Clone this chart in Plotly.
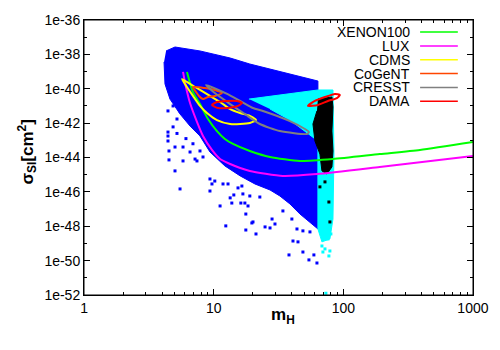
import numpy as np
import plotly.graph_objects as go

# --- data (mass in GeV, sigma as log10 of cm^2) ---

# dense scan region (blue), outline
scan_m = [4.29, 5.03, 7.84, 13.4, 19.0, 38.7, 63.7, 63.7, 55.3, 46.3, 38.7, 32.4,
          27.2, 20.8, 16.0, 12.2, 9.36, 7.84, 6.57, 5.50, 4.60, 4.21, 4.14]
scan_logsig = [-37.80, -37.57, -37.80, -38.21, -38.56, -39.14, -39.55, -48.16, -47.75,
               -47.29, -46.70, -46.24, -45.89, -45.54, -45.07, -44.49, -43.68, -42.75,
               -42.17, -41.47, -40.60, -39.72, -38.44]

# isolated scan points (blue)
pts_m = [4.52, 4.52, 5.03, 5.03, 5.80, 6.57, 7.18, 7.84, 4.86, 4.44, 5.21, 5.50, 4.44,
         4.44, 4.44, 5.80, 7.43, 8.27, 5.50, 9.36, 9.36, 10.2, 11.2, 11.8, 12.4, 12.9,
         13.4, 13.8, 14.3, 15.4, 16.2, 16.5, 17.4, 17.7, 17.7, 18.4, 19.7, 21.2, 19.0,
         22.7, 24.9, 9.70, 16.8, 20.1, 27.2, 29.7, 28.2, 34.2, 38.1, 40.9, 44.7, 48.8,
         54.3, 59.3, 62.6, 40.1, 43.9, 48.8, 55.3, 58.3, 57.3, 4.86, 5.21, 6.11, 6.92]
pts_logsig = [-43.62, -44.14, -43.39, -44.78, -44.20, -43.68, -44.09, -43.62, -42.22,
              -42.52, -41.76, -41.29, -41.29, -42.75, -43.04, -43.39, -44.20, -43.97,
              -45.83, -45.25, -45.95, -45.37, -46.82, -45.54, -47.98, -45.54, -46.35,
              -46.65, -46.18, -45.77, -46.65, -45.66, -46.65, -47.29, -48.22, -46.82,
              -47.81, -48.45, -46.24, -46.30, -48.04, -45.54, -46.12, -47.75, -48.10,
              -47.87, -47.58, -47.11, -49.67, -48.86, -48.91, -49.50, -49.96, -49.67,
              -50.14, -47.58, -48.16, -48.27, -48.33, -47.75, -47.17, -41.00, -42.60,
              -42.90, -43.20]

# relic-density allowed region (cyan)
relic_m = [18.7, 63.7, 83.2, 84.7, 83.2, 78.8, 68.4, 63.7, 63.7, 50.6, 38.7, 27.2]
relic_logsig = [-40.60, -40.07, -40.07, -43.80, -47.58, -48.74, -48.91, -48.16, -43.04,
                -42.46, -41.82, -41.18]
relic_pts_m = [68.4, 72.2, 78.8, 76.1, 69.6, 77.4, 73.4, 80.2]
relic_pts_logsig = [-49.15, -49.32, -49.44, -48.74, -49.50, -49.73, -51.90, -48.45]

# points passing all constraints (black)
best_m = [63.7, 81.7, 83.2, 81.7, 83.2, 81.7, 74.8, 68.4, 66.0, 60.4, 58.3, 62.6]
best_logsig = [-40.60, -40.48, -41.06, -42.46, -43.62, -44.55, -44.96, -44.78, -43.80,
               -43.04, -42.05, -41.29]
best_pts_m = [66.0, 77.4, 78.8, 72.2]
best_pts_logsig = [-45.71, -46.59, -47.75, -45.42]

# experimental limits and regions
xenon_m = [6.22, 6.92, 7.84, 9.04, 10.6, 12.2, 14.1, 19.0, 27.2, 46.3, 83.2, 191, 390, 1000]
xenon_logsig = [-39.02, -40.19, -40.89, -41.76, -42.46, -42.92, -43.21, -43.62, -43.97,
                -44.20, -44.09, -43.80, -43.56, -43.10]

lux_m = [5.80, 6.11, 6.57, 7.43, 8.27, 9.70, 11.2, 13.4, 16.0, 19.0, 34.2, 62.6, 191, 1000]
lux_logsig = [-39.02, -39.90, -40.83, -41.93, -42.75, -43.56, -44.09, -44.38, -44.61,
              -44.78, -45.07, -44.96, -44.55, -43.91]

cdms_m = [5.70, 6.57, 7.84, 9.36, 11.2, 13.4, 16.0, 19.0, 21.2, 19.0, 16.0, 13.4, 10.6,
          8.88, 7.84, 6.92, 6.22, 5.70]
cdms_logsig = [-39.43, -39.72, -40.07, -40.42, -40.77, -41.18, -41.41, -41.58, -41.82,
               -41.99, -42.05, -42.05, -41.82, -41.41, -41.00, -40.42, -39.90, -39.43]

cogent_m = [6.92, 8.57, 10.2, 11.6, 10.2, 9.04, 8.27, 7.70, 7.31, 6.92]
cogent_logsig = [-39.90, -39.96, -40.07, -40.25, -40.42, -40.48, -40.60, -40.42, -40.19,
                 -39.90]

cresst_m = [8.72, 12.7, 16.0, 20.1, 24.0, 38.7, 50.6, 54.3, 52.4, 32.4, 22.7, 17.4, 13.4,
            10.2, 8.72]
cresst_logsig = [-39.78, -40.30, -40.71, -41.12, -41.29, -41.88, -42.34, -42.52, -42.63,
                 -42.46, -42.05, -41.47, -40.89, -40.25, -39.78]

dama_na_m = [9.70, 10.6, 12.7, 15.1, 16.5, 15.4, 12.9, 10.8, 9.70]
dama_na_logsig = [-40.94, -40.77, -40.71, -40.71, -40.83, -41.00, -41.12, -41.12, -40.94]
dama_i_m = [53.3, 60.4, 72.2, 86.1, 94.1, 89.3, 76.1, 63.7, 53.3]
dama_i_logsig = [-41.00, -40.71, -40.48, -40.30, -40.36, -40.54, -40.71, -40.94, -41.00]

legend_names = ["XENON100", "LUX", "CDMS", "CoGeNT", "CRESST", "DAMA"]
legend_colors = ["#00ff00", "#ff00ff", "#ffff00", "#ff4500", "#808080", "#ff0000"]

y_ticks = [1e-36, 1e-38, 1e-40, 1e-42, 1e-44, 1e-46, 1e-48, 1e-50, 1e-52]
y_ticktext = ["1e-36", "1e-38", "1e-40", "1e-42", "1e-44", "1e-46", "1e-48", "1e-50", "1e-52"]
y_minor = [1e-37, 1e-39, 1e-41, 1e-43, 1e-45, 1e-47, 1e-49, 1e-51]
x_ticks = [1, 10, 100, 1000]
x_minor = [2, 3, 4, 5, 6, 7, 8, 9, 20, 30, 40, 50, 60, 70, 80, 90,
           200, 300, 400, 500, 600, 700, 800, 900]


def sig(v):
    return np.power(10.0, np.array(v))


FONT = "Liberation Sans"
fig = go.Figure()

# regions
fig.add_trace(go.Scatter(x=scan_m, y=sig(scan_logsig), fill="toself", mode="lines",
                         fillcolor="#0000ff", line=dict(color="#0000ff", width=1)))
fig.add_trace(go.Scatter(x=pts_m, y=sig(pts_logsig), mode="markers",
                         marker=dict(symbol="square", size=3, color="#0000ff",
                                     line=dict(width=0))))
fig.add_trace(go.Scatter(x=relic_m, y=sig(relic_logsig), fill="toself", mode="lines",
                         fillcolor="#00ffff", line=dict(color="#00ffff", width=1)))
fig.add_trace(go.Scatter(x=relic_pts_m, y=sig(relic_pts_logsig), mode="markers",
                         marker=dict(symbol="square", size=3, color="#00ffff",
                                     line=dict(width=0))))
fig.add_trace(go.Scatter(x=best_m, y=sig(best_logsig), fill="toself", mode="lines",
                         fillcolor="#000000", line=dict(color="#000000", width=1)))
fig.add_trace(go.Scatter(x=best_pts_m, y=sig(best_pts_logsig), mode="markers",
                         marker=dict(symbol="square", size=3, color="#000000",
                                     line=dict(width=0))))

# limits / signal regions
curves = [
    (xenon_m, xenon_logsig, legend_colors[0]),
    (lux_m, lux_logsig, legend_colors[1]),
    (cdms_m, cdms_logsig, legend_colors[2]),
    (cogent_m, cogent_logsig, legend_colors[3]),
    (cresst_m, cresst_logsig, legend_colors[4]),
    (dama_na_m, dama_na_logsig, legend_colors[5]),
    (dama_i_m, dama_i_logsig, legend_colors[5]),
]
for xm, ys, col in curves:
    fig.add_trace(go.Scatter(x=xm, y=sig(ys), mode="lines",
                             line=dict(color=col, width=2, shape="spline", smoothing=0.6)))

# gnuplot-like key: text on the left, line sample on the right
for i, (name, col) in enumerate(zip(legend_names, legend_colors)):
    yk = 0.956 - i * 0.0503
    fig.add_annotation(x=0.843, y=yk, xref="paper", yref="paper", text=name,
                       showarrow=False, xanchor="right", yanchor="middle",
                       font=dict(family=FONT, size=14, color="black"))
    fig.add_shape(type="line", xref="paper", yref="paper", x0=0.864, x1=0.961,
                  y0=yk, y1=yk, line=dict(color=col, width=1.5))

# plot frame
fig.add_shape(type="rect", xref="paper", yref="paper", x0=0, x1=1, y0=0, y1=1,
              line=dict(color="black", width=1), layer="above")

fig.add_annotation(x=0.512, y=-0.125, xref="paper", yref="paper",
                   text="<b>m<sub>H</sub></b>", showarrow=False,
                   font=dict(family=FONT, size=17, color="black"))
fig.add_annotation(x=-0.185, y=0.52, xref="paper", yref="paper",
                   text="<b>σ<sub>SI</sub>[cm<sup>2</sup>]</b>", showarrow=False,
                   textangle=-90, font=dict(family=FONT, size=17, color="black"))

axis_common = dict(showline=True, linecolor="black", linewidth=1, mirror="allticks",
                   ticks="inside", ticklen=6, tickcolor="black", showgrid=False,
                   zeroline=False, automargin=False,
                   tickfont=dict(family=FONT, size=14, color="black"))

fig.update_xaxes(type="log", range=[-0.0005, 3.0005], tickvals=x_ticks,
                 ticktext=[str(v) for v in x_ticks],
                 minor=dict(tickvals=x_minor, ticks="inside", ticklen=3, tickcolor="black"),
                 **axis_common)
fig.update_yaxes(type="log", range=[-52.002, -35.998], tickvals=y_ticks, ticktext=y_ticktext,
                 minor=dict(tickvals=y_minor, ticks="inside", ticklen=3, tickcolor="black"),
                 **axis_common)

fig.update_layout(template="none", width=500, height=350, showlegend=False,
                  margin=dict(l=76, r=35, t=12, b=63, autoexpand=False),
                  plot_bgcolor="white", paper_bgcolor="white",
                  font=dict(family=FONT))

fig.write_html("out.html")
